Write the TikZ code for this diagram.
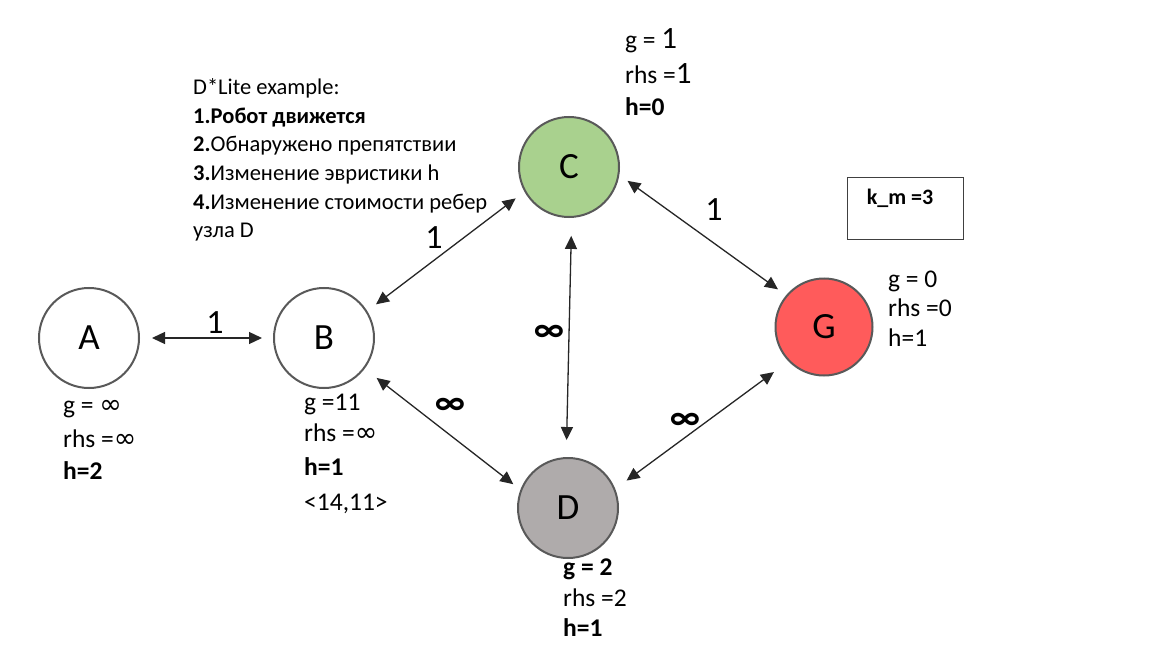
\documentclass[tikz,border=0pt]{standalone}
\usepackage{fontspec}
\setmainfont{Carlito}
\newfontfamily\djv{DejaVu Sans}
\newcommand\infy{{\djv\fontsize{27}{28}\selectfont ∞}}
\usetikzlibrary{arrows.meta}
\definecolor{cgreen}{HTML}{A9D18E}
\definecolor{dgray}{HTML}{AFABAB}
\definecolor{gred}{HTML}{FF5B5B}
\definecolor{rim}{HTML}{595959}
\begin{document}
\begin{tikzpicture}[x=1pt,y=-1pt,
  vertex/.style={circle, draw=rim, line width=2pt, minimum size=100pt, inner sep=0pt,
    font=\fontsize{37}{40}\selectfont},
  arr/.style={{Triangle[length=13pt,width=12pt]}-{Triangle[length=13pt,width=12pt]},
    line width=1.3pt, draw=black!85},
  lbl/.style={anchor=base west, inner sep=0pt, font=\fontsize{25.5}{28}\selectfont},
  blk/.style={anchor=base west, inner sep=0pt, font=\fontsize{22.5}{28}\selectfont},
  elbl/.style={inner sep=0pt, font=\fontsize{34}{36}\selectfont},
  inflbl/.style={inner sep=0pt, font=\fontsize{36}{36}\selectfont\bfseries},
]
\useasboundingbox (0,0) rectangle (1157,658);
\fill[white] (0,0) rectangle (1157,658);

% nodes
\node[vertex] (A) at (89,338) {A};
\node[vertex] (B) at (324,338) {B};
\node[vertex, fill=cgreen] (C) at (569,167) {C};
\node[vertex, fill=dgray] (D) at (568,508) {D};
\node[vertex, fill=gred, minimum size=97pt] (G) at (824,327) {G};

% edges
\draw[arr, shorten <=12pt, shorten >=11pt] (A.0) -- (B.180);
\draw[arr, shorten <=11pt, shorten >=11pt] (B.32) -- (C.209);
\draw[arr, shorten <=10pt, shorten >=10pt] (C.-9) -- (G.140);
\draw[arr, shorten <=18pt, shorten >=17pt] (C.273) -- (D.92);
\draw[arr, shorten <=15pt, shorten >=9pt] (B.323) -- (D.159);
\draw[arr, shorten <=14pt, shorten >=18pt] (D.22) -- (G.224);

% edge labels
\node[elbl] (lab) at (215,323) {1};
\node[elbl] (lbc) at (434,238) {1};
\node[elbl] (lcg) at (714,210) {1};
\node[inflbl] (lcd) at (549,333) {∞};
\node[inflbl] (lbd) at (450,406) {∞};
\node[inflbl] (ldg) at (685,421) {∞};

% text block
\node[blk] (t0) at (193,95) {D*Lite example:};
\node[blk] (t1) at (193,123.5) {\bfseries 1.Робот движется};
\node[blk] (t2) at (193,152) {\textbf{2.}Обнаружено препятствии};
\node[blk] (t3) at (193,180.5) {\textbf{3.}Изменение эвристики h};
\node[blk] (t4) at (193,209) {\textbf{4.}Изменение стоимости ребер};
\node[blk] (t5) at (193,237.5) {узла D};

% A labels
\node[lbl] (ag) at (63,413) {g = \infy};
\node[lbl] (ar) at (63,447) {rhs =\infy};
\node[lbl] (ah) at (63,479) {\bfseries h=2};
% B labels
\node[lbl] (bg) at (304,410) {g =11};
\node[lbl] (br) at (304,441) {rhs =\infy};
\node[lbl] (bh) at (304,475) {\bfseries h=1};
\node[lbl] (bk) at (304,510) {<14,11>};
% C labels
\node[lbl] (cg) at (625,49) {g = {\fontsize{31}{31}\selectfont 1}};
\node[lbl] (cr) at (625,84) {rhs ={\fontsize{31}{31}\selectfont 1}};
\node[lbl] (ch) at (625,116) {\bfseries h=0};
% D labels
\node[lbl] (dg) at (563,575) {\bfseries g = 2};
\node[lbl] (dr) at (563,606) {rhs =2};
\node[lbl] (dh) at (563,636) {\bfseries h=1};
% G labels
\node[lbl] (gg) at (888,287) {g = 0};
\node[lbl] (gr) at (888,316) {rhs =0};
\node[lbl] (gh) at (888,346) {h=1};

% k_m box
\node[draw=black!75, line width=1pt, minimum width=116pt, minimum height=61pt, inner sep=0pt] (km) at (905,208.5) {};
\node[inner sep=0pt, font=\fontsize{22}{24}\selectfont\bfseries] (kmt) at (900,198) {k\_m =3};
\end{tikzpicture}
\end{document}
